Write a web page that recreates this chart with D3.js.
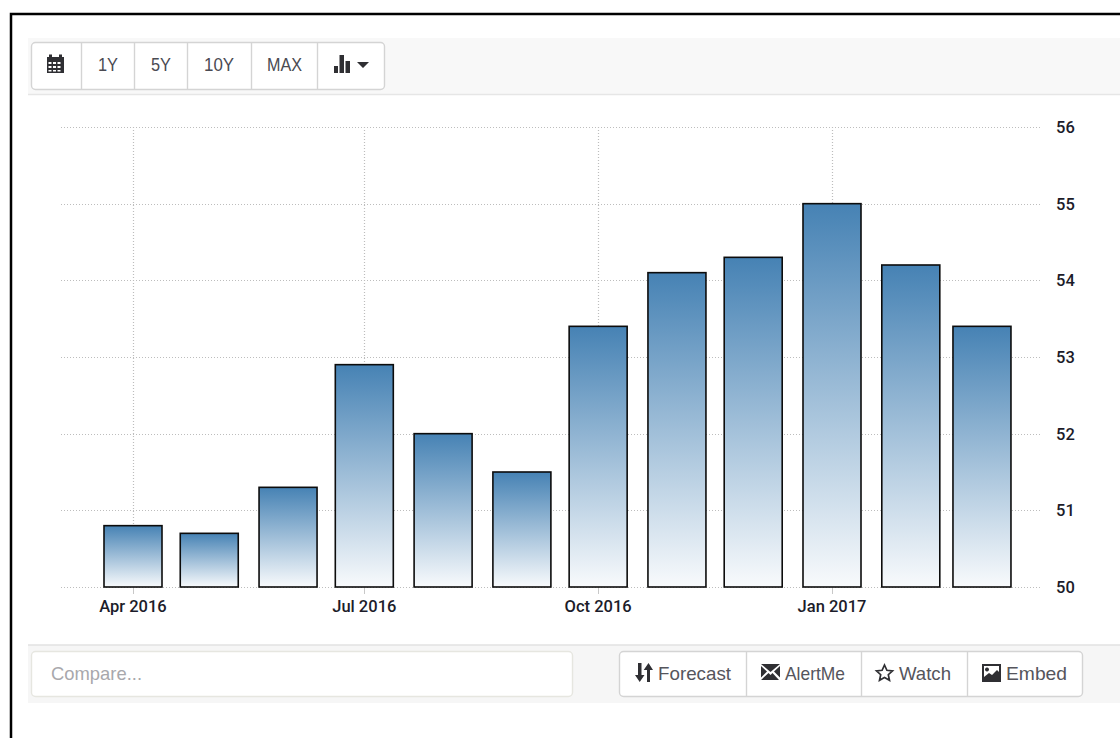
<!DOCTYPE html>
<html>
<head>
<meta charset="utf-8">
<script src="https://cdn.jsdelivr.net/npm/d3@7/dist/d3.min.js"></script>
<style>
  html, body { margin: 0; padding: 0; background: #fff; overflow: hidden; }
  svg { display: block; }
  .btn { font-family: "Liberation Sans", Arial, sans-serif; fill: #444; font-size: 19px; }
  .tick-label { font-family: "Roboto", sans-serif; fill: #1c1c2a; font-size: 16.5px; font-weight: 500; }
</style>
</head>
<body>
<svg id="chart" width="1120" height="738"></svg>
<script>
// Monthly index readings
const months = ["2016-04-01","2016-05-01","2016-06-01","2016-07-01","2016-08-01","2016-09-01",
                "2016-10-01","2016-11-01","2016-12-01","2017-01-01","2017-02-01","2017-03-01"];
const readings = [50.8, 50.7, 51.3, 52.9, 52.0, 51.5, 53.4, 54.1, 54.3, 55.0, 54.2, 53.4];
const yTicks = [50, 51, 52, 53, 54, 55, 56];
const xTicks = ["2016-04-01","2016-07-01","2016-10-01","2017-01-01"];
const rangeButtons = ["1Y", "5Y", "10Y", "MAX"];
const actionButtons = ["Forecast", "AlertMe", "Watch", "Embed"];

const svg = d3.select("#chart");
const parse = d3.utcParse("%Y-%m-%d");
const fmt = d3.utcFormat("%b %Y");

const x = d3.scaleUtc().domain([parse("2016-04-01"), parse("2017-01-01")]).range([133, 832]);
const y = d3.scaleLinear().domain([50, 56]).range([587, 127]);
const barWidth = 58;

// Page frame and panel bands
svg.append("rect").attr("x", 11).attr("y", 14).attr("width", 1120).attr("height", 740)
  .attr("fill", "#fff").attr("stroke", "#000").attr("stroke-width", 2.5);
svg.append("rect").attr("x", 28).attr("y", 38).attr("width", 1092).attr("height", 56).attr("fill", "#f8f8f8");
svg.append("line").attr("x1", 28).attr("x2", 1120).attr("y1", 94.5).attr("y2", 94.5).attr("stroke", "#e6e6e6").attr("stroke-width", 1.5);
svg.append("rect").attr("x", 28).attr("y", 645).attr("width", 1092).attr("height", 58).attr("fill", "#f6f6f6");
svg.append("line").attr("x1", 28).attr("x2", 1120).attr("y1", 645).attr("y2", 645).attr("stroke", "#e2e2e2").attr("stroke-width", 1.5);

// Button group helper: outer rounded box with separators
function group(x0, x1, y0, y1, dividers) {
  svg.append("rect").attr("x", x0 + .5).attr("y", y0 + .5).attr("width", x1 - x0).attr("height", y1 - y0)
    .attr("rx", 4).attr("fill", "#fff").attr("stroke", "#d4d4d4").attr("stroke-width", 1.4);
  svg.selectAll(null).data(dividers).enter().append("line")
    .attr("x1", d => d + .5).attr("x2", d => d + .5).attr("y1", y0).attr("y2", y1 + 1)
    .attr("stroke", "#d4d4d4").attr("stroke-width", 1.4);
}

// Top toolbar
group(31, 384, 42, 89, [81, 134, 187, 251, 317]);
svg.selectAll(null).data(rangeButtons).enter().append("text")
  .attr("class", "btn").attr("y", 71).style("fill", "#4a4a52")
  .attr("x", (d, i) => [98, 151, 204, 267][i])
  .attr("textLength", (d, i) => [20, 20, 30, 35][i]).attr("lengthAdjust", "spacingAndGlyphs")
  .text(d => d);

// Calendar icon
const icon = svg.append("g").attr("fill", "#2f2f33");
icon.append("path").attr("fill-rule", "evenodd").attr("d",
  "M47 57h2v-2.500h3v2.500h7v-2.500h3v2.500h2v16h-17z " +
  "M48.500 62v2h3v-2z M53 62v2h3v-2z M57.500 62v2h3v-2z M48.500 66v2h3v-2z M53 66v2h3v-2z M57.500 66v2h3v-2z M48.500 70v1.500h3v-1.500z M53 70v1.500h3v-1.500z M57.500 70v1.500h3v-1.500z");
// Bar-chart icon with dropdown caret
icon.append("path").attr("d", "M334 66h4v7h-4z M339.500 55h4.500v18h-4.500z M345.500 61h4.500v12h-4.500z M357 62h12l-6 6z");

// Gridlines
const grid = svg.append("g").attr("stroke", "#bdbdbd").attr("stroke-dasharray", "1 2").attr("stroke-width", 1.2);
grid.selectAll("line.h").data(yTicks).enter().append("line").attr("class", "h")
  .attr("x1", 61).attr("x2", 1040).attr("y1", d => Math.round(y(d)) + .5).attr("y2", d => Math.round(y(d)) + .5);
grid.selectAll("line.v").data(xTicks).enter().append("line").attr("class", "v")
  .attr("x1", d => Math.round(x(parse(d))) + .5).attr("x2", d => Math.round(x(parse(d))) + .5)
  .attr("y1", 127).attr("y2", 587);

// Tick stubs under the baseline
svg.append("g").selectAll("line").data(xTicks).enter().append("line")
  .attr("x1", d => Math.round(x(parse(d))) + .5).attr("x2", d => Math.round(x(parse(d))) + .5)
  .attr("y1", 587).attr("y2", 594).attr("stroke", "#c8c8c8");

// Vertical fade used by every bar
const grad = svg.append("defs").append("linearGradient").attr("id", "barFade")
  .attr("x1", 0).attr("x2", 0).attr("y1", 0).attr("y2", 1);
grad.append("stop").attr("offset", "0%").attr("stop-color", "#4682b4");
grad.append("stop").attr("offset", "100%").attr("stop-color", "#f8fafc");

// Bars
svg.append("g").selectAll("rect").data(months).enter().append("rect")
  .attr("x", d => x(parse(d)) - barWidth / 2)
  .attr("y", (d, i) => y(readings[i]))
  .attr("width", barWidth)
  .attr("height", (d, i) => y(50) - y(readings[i]))
  .attr("fill", "url(#barFade)").attr("stroke", "#0c0c0c").attr("stroke-width", 1.6);

// Axis labels
svg.append("g").selectAll("text").data(yTicks).enter().append("text")
  .attr("class", "tick-label").attr("x", 1056).attr("y", d => y(d) + 6).text(d => d);
svg.append("g").selectAll("text").data(xTicks).enter().append("text")
  .attr("class", "tick-label").attr("text-anchor", "middle")
  .attr("x", d => x(parse(d))).attr("y", 612).text(d => fmt(parse(d)));

// Bottom row: compare input and action buttons
svg.append("rect").attr("x", 31.5).attr("y", 651.500).attr("width", 541).attr("height", 45).attr("rx", 4)
  .attr("fill", "#fff").attr("stroke", "#e6e6e0").attr("stroke-width", 1.4);
svg.append("text").attr("class", "btn").attr("x", 51).attr("y", 680).attr("textLength", 91)
  .attr("lengthAdjust", "spacingAndGlyphs").style("fill", "#a8a8ac").text("Compare...");

group(619, 1082, 651, 696, [746, 861, 967]);
svg.selectAll(null).data(actionButtons).enter().append("text")
  .attr("class", "btn").attr("y", 680).style("fill", "#55555c")
  .attr("x", (d, i) => [658, 785, 899, 1006][i])
  .attr("textLength", (d, i) => [73, 60, 52, 61][i]).attr("lengthAdjust", "spacingAndGlyphs")
  .text(d => d);

// Action button icons
const actions = svg.append("g").attr("fill", "#2f2f33");
actions.append("path").attr("d",
  "M638 663h3.500v12h3l-4.800 7l-4.700-7h3z M647 682h3v-12h3l-4.500-7l-4.800 7h3.300z");
actions.append("path").attr("d",
  "M761 664h19l-9.500 8z M761 666l6 5.500l-6 6z M780 666l-6 5.500l6 6z M761 680l7.500-7l2 2l2-2l6.500 7z");
actions.append("path").attr("fill", "none").attr("stroke", "#2f2f33").attr("stroke-width", 1.700).attr("d",
  "M884.500 665l2.400 5.300l5.600.6l-4.200 3.800l1.200 5.600l-5-2.900l-5 2.900l1.200-5.600l-4.200-3.800l5.600-.6z");
actions.append("path").attr("fill-rule", "evenodd").attr("d",
  "M982 664h19v18h-19z M984 666v11l5-4l3 2l5-5l2 2v-6z M987 667.500a2 2 0 1 0 .01 0z");
</script>
</body>
</html>
